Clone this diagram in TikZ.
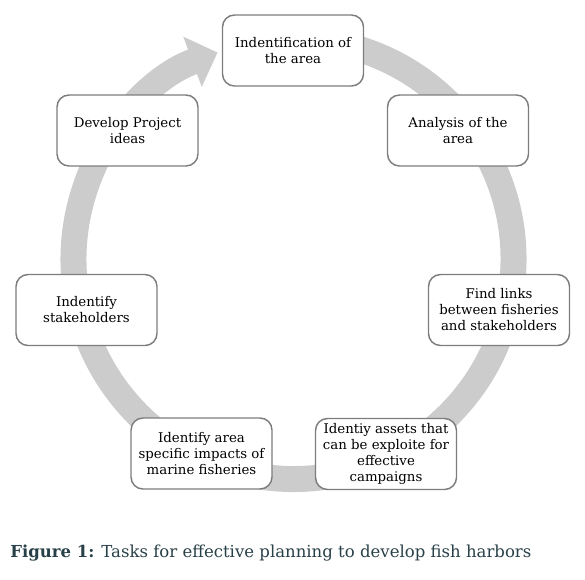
\documentclass[tikz,border=0pt]{standalone}
\usepackage{fontspec}
\setmainfont{DejaVu Serif}
\usepackage{tikz}
\usetikzlibrary{arrows.meta}
\definecolor{ringgray}{RGB}{204,204,204}
\definecolor{boxgray}{RGB}{125,125,125}
\definecolor{capcol}{RGB}{40,64,72}

\begin{document}
\begin{tikzpicture}[x=0.75pt,y=0.75pt]
\tikzstyle{every node}=[font=\fontsize{10}{12}\selectfont, align=center]
\tikzstyle{task}=[draw=boxgray, line width=1.1pt, fill=white, rounded corners=9pt, minimum width=105.75pt, minimum height=53.25pt, inner sep=1pt]
\useasboundingbox (0,0) rectangle (585,-579);
\coordinate (o) at (293.5,-259);
\draw[ringgray, line width=19.5pt, -{Triangle[length=20pt,width=39pt]}] (o) ++(80:165pt) arc[start angle=80,end angle=-249.8,radius=165pt];
\node[task] (a) at (293,-50.5) {Indentification of\\the area};
\node[task] (b) at (458,-130.5) {Analysis of the\\area};
\node[task] (c) at (499,-310) {Find links\\between fisheries\\and stakeholders};
\node[task] (d) at (386,-454) {Identiy assets that\\can be exploite for\\effective\\campaigns};
\node[task] (e) at (201.5,-453.5) {Identify area\\specific impacts of\\marine fisheries};
\node[task] (f) at (86.5,-310) {Indentify\\stakeholders};
\node[task] (g) at (127.5,-130.5) {Develop Project\\ideas};
\node[anchor=base west, inner sep=0pt, font=\fontsize{12.4}{15}\selectfont, text=capcol] (cap) at (10,-557) {\textbf{Figure 1:} Tasks for effective planning to develop fish harbors};
\end{tikzpicture}
\end{document}
